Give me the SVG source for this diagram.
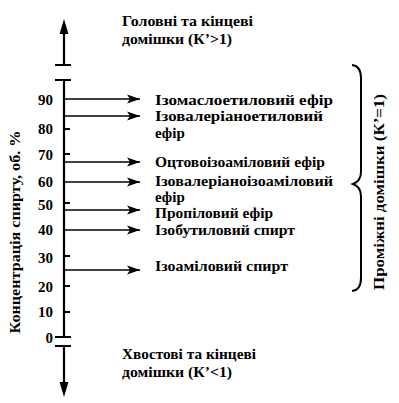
<svg xmlns="http://www.w3.org/2000/svg" width="399" height="403" viewBox="0 0 399 403">
<defs>
<style>
.t{font-family:"Liberation Serif","Times New Roman",serif;font-weight:bold;font-size:15px;fill:#000}
.n{font-family:"Liberation Serif","Times New Roman",serif;font-weight:bold;font-size:15px;fill:#000;text-anchor:end}
.ax{stroke:#000;stroke-width:2.2;fill:none}
.ar{stroke:#000;stroke-width:1.6;fill:none;marker-end:url(#ah)}
</style>
<marker id="ah" markerUnits="userSpaceOnUse" markerWidth="14" markerHeight="10" refX="13" refY="5" orient="auto">
<path d="M0,0.5 L13,5 L0,9.5 L3,5 z" fill="#000"/>
</marker>
</defs>
<rect width="399" height="403" fill="#fff"/>
<g id="axis">
<path class="ax" d="M64,32 V65 M64,80 V337 M64,346 V384"/>
<path class="ax" d="M55,65 H71 M55,80 H71 M55,337 H71 M55,346 H71"/>
<path class="ax" d="M64,129 H70 M64,154 H70 M64,203 H70 M64,256 H70 M64,286 H70 M64,312 H70"/>
<polygon points="64,19 59.5,34 68.5,34" fill="#000"/>
<polygon points="64,397 59.5,382 68.5,382" fill="#000"/>
<text class="n" x="53" y="105">90</text>
<text class="n" x="53" y="134">80</text>
<text class="n" x="53" y="160">70</text>
<text class="n" x="53" y="187">60</text>
<text class="n" x="53" y="210">50</text>
<text class="n" x="53" y="235">40</text>
<text class="n" x="53" y="263">30</text>
<text class="n" x="53" y="292">20</text>
<text class="n" x="53" y="317">10</text>
<text class="n" x="53" y="343">0</text>
<text class="t" transform="translate(20,232) rotate(-90)" text-anchor="middle" textLength="203" lengthAdjust="spacingAndGlyphs">Концентрація спирту, об. %</text>
</g>
<g id="connectors">
<line class="ar" x1="64" y1="99" x2="140" y2="99"/>
<line class="ar" x1="64" y1="116" x2="140" y2="116"/>
<line class="ar" x1="64" y1="162" x2="140" y2="162"/>
<line class="ar" x1="64" y1="182" x2="140" y2="182"/>
<line class="ar" x1="64" y1="210" x2="140" y2="210"/>
<line class="ar" x1="64" y1="230" x2="140" y2="230"/>
<line class="ar" x1="64" y1="270" x2="140" y2="270"/>
</g>
<g id="top-label">
<text class="t" x="122" y="26" textLength="131" lengthAdjust="spacingAndGlyphs">Головні та кінцеві</text>
<text class="t" x="122" y="44" textLength="110" lengthAdjust="spacingAndGlyphs">домішки (К’&gt;1)</text>
</g>
<g id="bottom-label">
<text class="t" x="122" y="359" textLength="134" lengthAdjust="spacingAndGlyphs">Хвостові та кінцеві</text>
<text class="t" x="122" y="377" textLength="110" lengthAdjust="spacingAndGlyphs">домішки (К’&lt;1)</text>
</g>
<g id="n1"><text class="t" x="155" y="105" textLength="178" lengthAdjust="spacingAndGlyphs">Ізомаслоетиловий ефір</text></g>
<g id="n2"><text class="t" x="155" y="121" textLength="168" lengthAdjust="spacingAndGlyphs">Ізовалеріаноетиловий</text><text class="t" x="155" y="138">ефір</text></g>
<g id="n3"><text class="t" x="155" y="167" textLength="170" lengthAdjust="spacingAndGlyphs">Оцтовоізоаміловий ефір</text></g>
<g id="n4"><text class="t" x="155" y="186" textLength="178" lengthAdjust="spacingAndGlyphs">Ізовалеріаноізоаміловий</text><text class="t" x="155" y="202">ефір</text></g>
<g id="n5"><text class="t" x="155" y="218" textLength="118" lengthAdjust="spacingAndGlyphs">Пропіловий ефір</text></g>
<g id="n6"><text class="t" x="155" y="235" textLength="140" lengthAdjust="spacingAndGlyphs">Ізобутиловий спирт</text></g>
<g id="n7"><text class="t" x="155" y="271" textLength="133" lengthAdjust="spacingAndGlyphs">Ізоаміловий спирт</text></g>
<g id="brace">
<path d="M352,65 Q361,66 361,78 L361,172 Q361,181 353,184 Q361,187 361,196 L361,278 Q361,290 352,291" fill="none" stroke="#000" stroke-width="2"/>
<text class="t" transform="translate(384,192) rotate(-90)" text-anchor="middle" textLength="196" lengthAdjust="spacingAndGlyphs">Проміжні домішки (К’=1)</text>
</g>
</svg>
